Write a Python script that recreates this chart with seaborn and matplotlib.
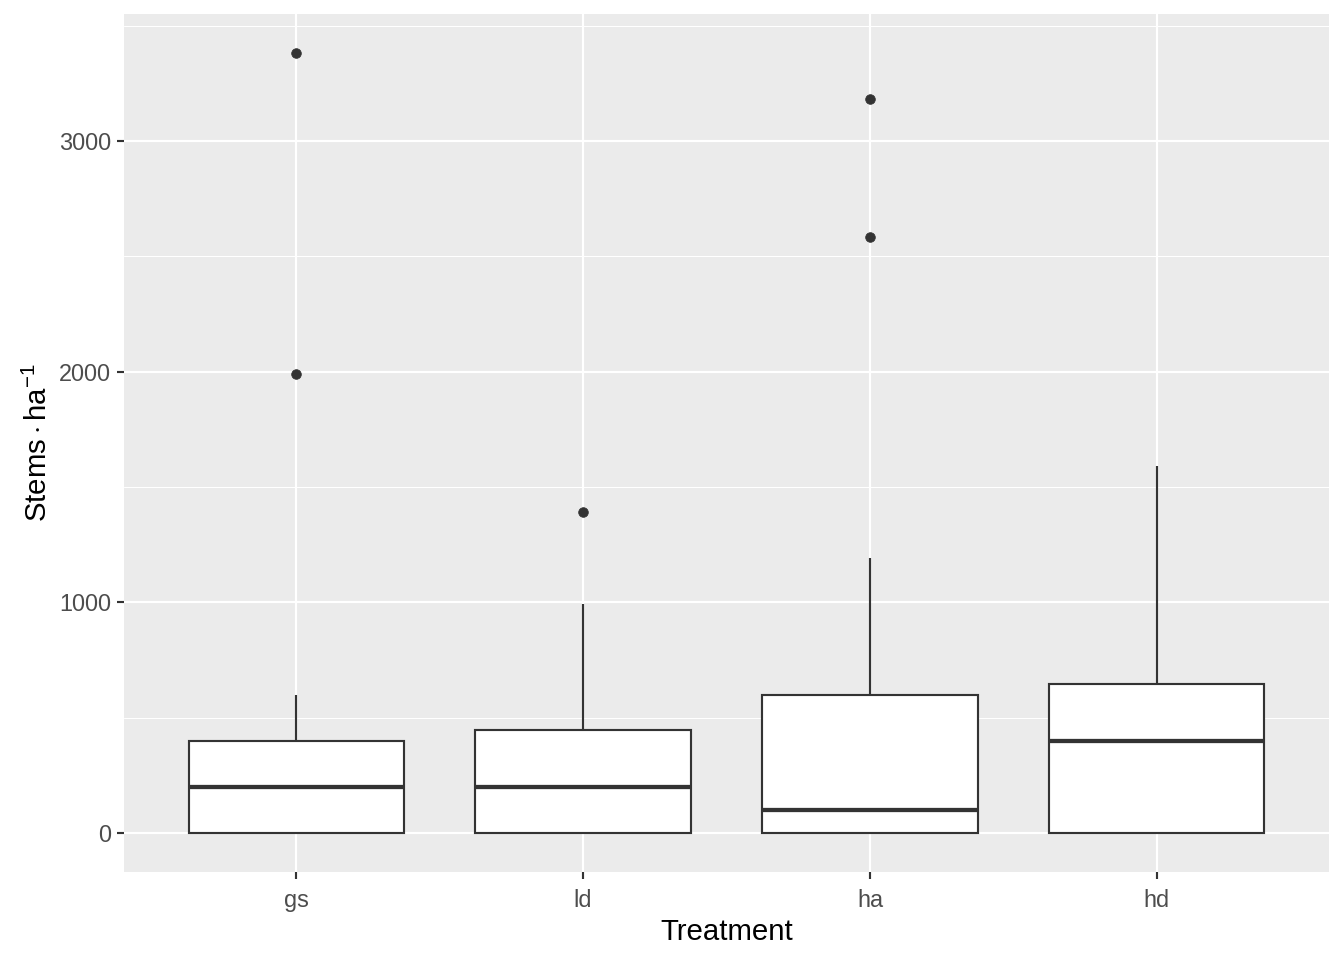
import numpy as np
import pandas as pd
import matplotlib
matplotlib.use("Agg")
import matplotlib.pyplot as plt
import seaborn as sns
from matplotlib.ticker import MultipleLocator, FixedLocator

# Data: tree counts per 4 m radius plot, converted to stems per hectare
treatments = ["gs", "ld", "ha", "hd"]
gs_counts = [0, 0, 0, 0, 1, 1, 1, 2, 2, 2, 3, 10, 17]
ld_counts = [0, 0, 0, 0, 1, 1, 1, 2, 2, 3, 5, 7]
ha_counts = [0, 0, 0, 0, 0, 0, 0, 1, 2, 3, 3, 6, 13, 16]
hd_counts = [0, 0, 0, 0, 2, 2, 2, 3, 3, 4, 5, 8]
plot_area_ha = np.pi * 4.0 ** 2 / 10000.0

y_ticks = [0, 1000, 2000, 3000]
y_label = r"$\mathrm{Stems}\cdot\mathrm{ha}^{-1}$"
x_label = "Treatment"

rows = []
for t, c in zip(treatments, [gs_counts, ld_counts, ha_counts, hd_counts]):
    for v in c:
        rows.append((t, v / plot_area_ha))
df = pd.DataFrame(rows, columns=["Treatment", "stems"])

sns.set_theme(style="white")
plt.rcParams["font.family"] = ["Liberation Sans", "DejaVu Sans"]
plt.rcParams["mathtext.fontset"] = "custom"
plt.rcParams["mathtext.rm"] = "Liberation Sans"
plt.rcParams["mathtext.it"] = "Liberation Sans:italic"
plt.rcParams["mathtext.bf"] = "Liberation Sans:bold"

DPI = 192
fig = plt.figure(figsize=(1344 / DPI, 960 / DPI), dpi=DPI)
ax = fig.add_axes([124 / 1344, 1 - 872 / 960, (1329 - 124) / 1344, (872 - 14) / 960])
ax.set_facecolor("#EBEBEB")

dark = "#333333"
sns.boxplot(
    data=df, x="Treatment", y="stems", order=treatments, ax=ax,
    color="white", linecolor=dark, linewidth=0.8, width=0.75,
    showcaps=False, saturation=1,
    boxprops=dict(facecolor="white", edgecolor=dark, zorder=3),
    whiskerprops=dict(color=dark, zorder=3),
    medianprops=dict(color=dark, linewidth=1.6, zorder=4),
    flierprops=dict(marker="o", markerfacecolor=dark, markeredgecolor=dark,
                    markersize=3.6, markeredgewidth=0.3),
)

ax.set_xlim(-0.6, 3.6)
ymax = max(max(c) for c in [gs_counts, ld_counts, ha_counts, hd_counts]) / plot_area_ha
span = ymax - 0
ax.set_ylim(0 - 0.05 * span, ymax + 0.05 * span)
ax.yaxis.set_major_locator(FixedLocator(y_ticks))
ax.yaxis.set_minor_locator(MultipleLocator(500))
ax.set_yticklabels([str(v) for v in y_ticks])

ax.grid(True, which="major", axis="both", color="white", linewidth=0.8, zorder=0)
ax.grid(True, which="minor", axis="y", color="white", linewidth=0.4, zorder=0)
ax.set_axisbelow(True)
for s in ax.spines.values():
    s.set_visible(False)

ax.tick_params(axis="x", which="major", length=2.75, width=0.8, color=dark,
               labelsize=8.8, labelcolor="#4D4D4D", pad=3.7, bottom=True)
ax.tick_params(axis="y", which="major", length=2.75, width=0.8, color=dark,
               labelsize=8.8, labelcolor="#4D4D4D", pad=2.2, left=True)
ax.tick_params(axis="y", which="minor", length=0, left=False)

ax.set_xlabel(x_label, fontsize=11, color="black", labelpad=2.0)
ax.set_ylabel(y_label, fontsize=11, color="black", labelpad=2.0)

fig.savefig("out.png", dpi=DPI, facecolor="white")
